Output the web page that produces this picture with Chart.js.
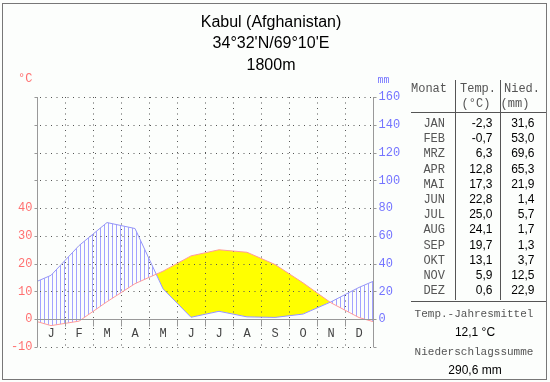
<!DOCTYPE html>
<html>
<head>
<meta charset="utf-8">
<script src="https://cdn.jsdelivr.net/npm/chart.js@4.4.1/dist/chart.umd.min.js"></script>
<style>
  html, body { margin: 0; padding: 0; background: #fcfefc; }
  #wrap { width: 550px; height: 382px; position: relative; }
</style>
</head>
<body>
<div id="wrap"><canvas id="climate" width="550" height="382"></canvas></div>
<script>
const months = ['J', 'F', 'M', 'A', 'M', 'J', 'J', 'A', 'S', 'O', 'N', 'D'];
const monthNames = ['JAN', 'FEB', 'MRZ', 'APR', 'MAI', 'JUN', 'JUL', 'AUG', 'SEP', 'OKT', 'NOV', 'DEZ'];
const temps = [-2.3, -0.7, 6.3, 12.8, 17.3, 22.8, 25.0, 24.1, 19.7, 13.1, 5.9, 0.6];
const precip = [31.6, 53.0, 69.6, 65.3, 21.9, 1.4, 5.7, 1.7, 1.3, 3.7, 12.5, 22.9];
const tempTicks = [-10, 0, 10, 20, 30, 40];
const precipTicks = [0, 20, 40, 60, 80, 100, 120, 140, 160];
const titleLines = ['Kabul (Afghanistan)', "34°32'N/69°10'E", '1800m'];
const annualMean = '12,1 °C';
const annualSum = '290,6 mm';

const fmt = v => v.toFixed(1).replace('.', ',');

// points at month centres, the ends closed with the Dec/Jan mean like the original
function series(vals) {
  const edge = (vals[0] + vals[11]) / 2;
  const pts = [{x: 0, y: edge}];
  vals.forEach((v, i) => pts.push({x: i + 0.5, y: v}));
  pts.push({x: 12, y: edge});
  return pts;
}

// vertical hatching for the humid part
const pc = document.createElement('canvas');
pc.width = 4; pc.height = 4;
const pctx = pc.getContext('2d');
pctx.fillStyle = '#a3a3ff';
pctx.fillRect(0, 0, 1, 4);
const hatch = pctx.createPattern(pc, 'repeat');

const MONO = '"Liberation Mono", "DejaVu Sans Mono", monospace';
const SANS = '"Liberation Sans", Arial, sans-serif';

const dotted = (ctx, x1, y1, x2, y2) => {
  ctx.save();
  ctx.strokeStyle = '#555';
  ctx.lineWidth = 1;
  ctx.setLineDash([1, 4.5]);
  ctx.beginPath();
  ctx.moveTo(x1, y1);
  ctx.lineTo(x2, y2);
  ctx.stroke();
  ctx.restore();
};

const gridPlugin = {
  id: 'grid',
  beforeDatasetsDraw(chart) {
    const {ctx, chartArea: a, scales: {x, y}} = chart;
    for (let t = -10; t <= 80; t += 10) {
      if (t === 0) continue;
      const py = Math.round(y.getPixelForValue(t)) + 0.5;
      dotted(ctx, a.left + 3, py, a.right, py);
    }
    for (let m = 1; m < 12; m++) {
      const px = Math.round(x.getPixelForValue(m)) + 0.5;
      dotted(ctx, px, a.top, px, a.bottom);
    }
  },
  afterDatasetsDraw(chart) {
    const {ctx, chartArea: a, scales: {x, y, y2}} = chart;
    ctx.save();
    ctx.strokeStyle = '#999';
    ctx.lineWidth = 1;
    const lx = Math.round(a.left) + 0.5, rx = Math.round(a.right) + 0.5;
    const y0 = Math.round(y.getPixelForValue(0)) + 0.5;
    ctx.beginPath();
    // axes
    ctx.moveTo(lx, a.top); ctx.lineTo(lx, a.bottom);
    ctx.moveTo(rx, a.top); ctx.lineTo(rx, a.bottom);
    ctx.moveTo(lx, y0); ctx.lineTo(rx, y0);
    for (let t = -10; t <= 80; t += 10) {
      const py = Math.round(y.getPixelForValue(t)) + 0.5;
      ctx.moveTo(lx - 3, py); ctx.lineTo(lx, py);
      ctx.moveTo(rx, py); ctx.lineTo(rx + 3, py);
    }
    for (let m = 1; m < 12; m++) {
      const px = Math.round(x.getPixelForValue(m)) + 0.5;
      ctx.moveTo(px, y0); ctx.lineTo(px, y0 + 7);
    }
    ctx.stroke();

    ctx.textBaseline = 'middle';
    ctx.font = '12px ' + MONO;
    ctx.fillStyle = '#ff7070';
    ctx.textAlign = 'right';
    tempTicks.forEach(t => ctx.fillText(String(t), lx - 5, y.getPixelForValue(t)));
    ctx.fillText('°C', lx - 5, 79);
    ctx.fillStyle = '#7474ff';
    ctx.textAlign = 'left';
    precipTicks.forEach(p => ctx.fillText(String(p), rx + 5, y2.getPixelForValue(p)));
    ctx.font = '10px ' + MONO;
    ctx.fillText('mm', rx + 4, 80);

    ctx.font = '12px ' + MONO;
    ctx.fillStyle = '#444';
    ctx.textAlign = 'center';
    months.forEach((m, i) => ctx.fillText(m, x.getPixelForValue(i + 0.5), y0 + 14));
    ctx.restore();
  },
  afterDraw(chart) {
    const {ctx} = chart;
    ctx.save();
    // frame
    ctx.strokeStyle = '#777';
    ctx.lineWidth = 1;
    ctx.strokeRect(2.5, 3.5, 544, 376);

    // title
    ctx.fillStyle = '#000';
    ctx.font = '16px ' + SANS;
    ctx.textAlign = 'center';
    ctx.textBaseline = 'alphabetic';
    titleLines.forEach((t, i) => ctx.fillText(t, 271, 26.5 + i * 21.5));

    // table lines
    ctx.strokeStyle = '#555';
    ctx.beginPath();
    ctx.moveTo(455.5, 80); ctx.lineTo(455.5, 300);
    ctx.moveTo(500.5, 80); ctx.lineTo(500.5, 300);
    ctx.moveTo(411, 112.5); ctx.lineTo(546, 112.5);
    ctx.moveTo(411, 301.5); ctx.lineTo(546, 301.5);
    ctx.stroke();

    ctx.font = '12px ' + MONO;
    ctx.fillStyle = '#555';
    ctx.textAlign = 'center';
    ctx.fillText('Monat', 429, 92);
    ctx.fillText('Temp.', 478, 92);
    ctx.fillText('Nied.', 522, 92);
    ctx.fillText('(°C)', 476, 107);
    ctx.fillText('(mm)', 515, 107);

    const rowY = i => 127 + i * 15.2;
    ctx.textAlign = 'right';
    monthNames.forEach((m, i) => ctx.fillText(m, 445, rowY(i)));
    ctx.font = '12px ' + SANS;
    ctx.fillStyle = '#000';
    temps.forEach((v, i) => ctx.fillText(fmt(v), 492.5, rowY(i)));
    precip.forEach((v, i) => ctx.fillText(fmt(v), 534.5, rowY(i)));

    ctx.textAlign = 'center';
    ctx.font = '11px ' + MONO;
    ctx.fillStyle = '#555';
    ctx.fillText('Temp.-Jahresmittel', 474, 317);
    ctx.fillText('Niederschlagssumme', 474, 355);
    ctx.font = '12px ' + SANS;
    ctx.fillStyle = '#000';
    ctx.fillText(annualMean, 475, 336);
    ctx.fillText(annualSum, 475, 374);
    ctx.restore();
  }
};

new Chart(document.getElementById('climate'), {
  type: 'line',
  data: {
    datasets: [{
      label: 'Temperatur',
      data: series(temps),
      yAxisID: 'y',
      borderColor: '#ff9a9a',
      borderWidth: 1,
      pointRadius: 0,
      tension: 0,
      fill: {target: 1, above: '#ffff00', below: hatch}
    }, {
      label: 'Niederschlag',
      data: series(precip),
      yAxisID: 'y2',
      borderColor: '#9494ff',
      borderWidth: 1,
      pointRadius: 0,
      tension: 0,
      fill: false
    }]
  },
  options: {
    responsive: false,
    animation: false,
    layout: {padding: {left: 37, right: 177, top: 97, bottom: 35}},
    scales: {
      x: {type: 'linear', min: 0, max: 12, display: false},
      y: {min: -10, max: 80, display: false},
      y2: {min: -20, max: 160, display: false}
    },
    plugins: {
      legend: {display: false},
      tooltip: {enabled: false},
      filler: {drawTime: 'beforeDatasetsDraw'}
    }
  },
  plugins: [gridPlugin]
});
</script>
</body>
</html>
